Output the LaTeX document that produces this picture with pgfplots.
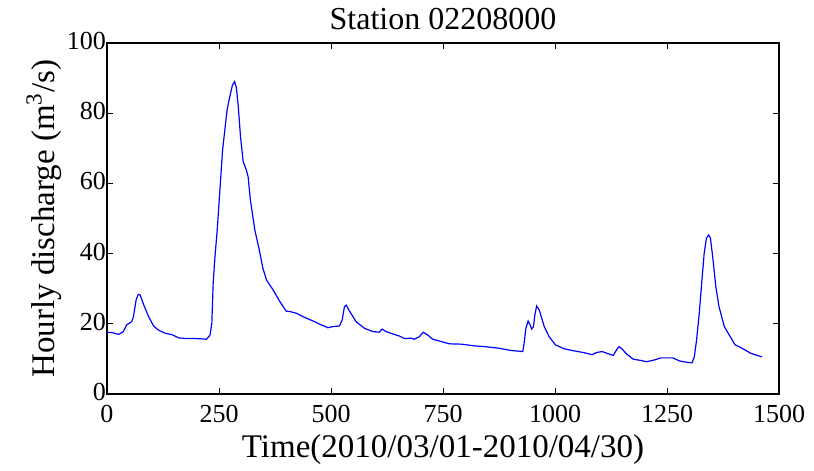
\documentclass[border=0pt]{standalone}
\usepackage{fontspec}
\setmainfont{Liberation Serif}
\usepackage{pgfplots}
\pgfplotsset{compat=1.18}
\begin{document}
\begin{tikzpicture}
\begin{axis}[
  at={(0,0)}, anchor=south west,
  scale only axis,
  width=336pt, height=175.5pt,
  xmin=0, xmax=1500, ymin=0, ymax=100,
  xtick={0,250,...,1500}, ytick={0,20,...,100},
  tick align=inside,
  major tick length=3pt,
  axis line style={line width=0.8pt},
  every tick/.style={black, line width=0.5pt},
  /pgf/number format/assume math mode=true,
  /pgf/number format/1000 sep={},
  tick label style={font=\fontsize{13}{14}\selectfont},
  xticklabel style={yshift=-2pt},
  yticklabel style={xshift=3pt, yshift=1pt},
  label style={font=\fontsize{16.5}{18}\selectfont},
  title style={font=\fontsize{16}{18}\selectfont, yshift=-3pt},
  title={Station 02208000},
  xlabel={Time(2010/03/01-2010/04/30)},
  ylabel={Hourly discharge (m\textsuperscript{3}/s)},
  xlabel style={yshift=1pt},
  ylabel style={yshift=-4pt},
]
\addplot[blue, line width=0.6pt] coordinates {
(0,17.6) (11,17.5) (26,17.0) (36,17.7) (44,19.7) (55,20.6) (59,22) (65,26.8)
(70,28.4) (74,28.2) (82,25.4) (93,22.0) (104,19.4) (115,18.2) (130,17.3)
(145,16.9) (160,16.0) (178,15.8) (200,15.8) (222,15.6) (230,16.8) (234,20.1)
(237,31.5) (241,39.1) (246,46.7) (252,58.1) (258,69.5) (263,75.2) (268,80.9)
(274,84.7) (280,88.0) (285,89.0) (289,87.1) (293,81.9) (298,73.3) (304,66.2)
(311,63.8) (315,61.9) (320,55.3) (330,46.7) (340,41.0) (348,35.8) (356,32.5)
(371,29.6) (386,26.3) (400,23.6) (408,23.5) (423,23.0) (438,22.0) (460,20.8)
(478,19.7) (493,18.9) (504,19.2) (519,19.4) (525,21.1) (530,24.9) (534,25.3)
(541,23.7) (556,20.6) (575,18.7) (593,17.8) (608,17.6) (614,18.5) (623,17.8)
(638,17.1) (653,16.5) (664,15.8) (679,15.9) (686,15.6) (697,16.3) (706,17.6)
(716,16.8) (727,15.6) (742,15.1) (764,14.3) (791,14.2) (821,13.7) (843,13.5)
(872,13.1) (902,12.4) (928,12.1) (931,14.4) (935,18.7) (940,20.8) (945,19.5)
(948,18.5) (952,19.2) (955,22.5) (959,25.1) (965,23.9) (976,19.2) (987,16.3)
(1001,14.0) (1020,12.9) (1042,12.3) (1064,11.8) (1083,11.2) (1092,11.8)
(1105,12.1) (1116,11.6) (1130,11.0) (1138,12.7) (1143,13.5) (1149,12.9)
(1160,11.4) (1175,9.9) (1190,9.6) (1204,9.2) (1219,9.6) (1237,10.3) (1263,10.3)
(1278,9.4) (1296,9.0) (1306,8.9) (1311,10.6) (1316,15.4) (1322,23.0) (1328,32.5)
(1333,40.1) (1338,44.4) (1343,45.3) (1347,44.4) (1352,39.1) (1359,30.6)
(1366,24.9) (1378,19.2) (1389,16.8) (1402,14.0) (1411,13.5) (1422,12.7)
(1437,11.6) (1451,11.0) (1462,10.6)
};
\end{axis}
\path (-53.5pt,-31.5pt) rectangle (353.5pt,197pt);
\end{tikzpicture}
\end{document}
